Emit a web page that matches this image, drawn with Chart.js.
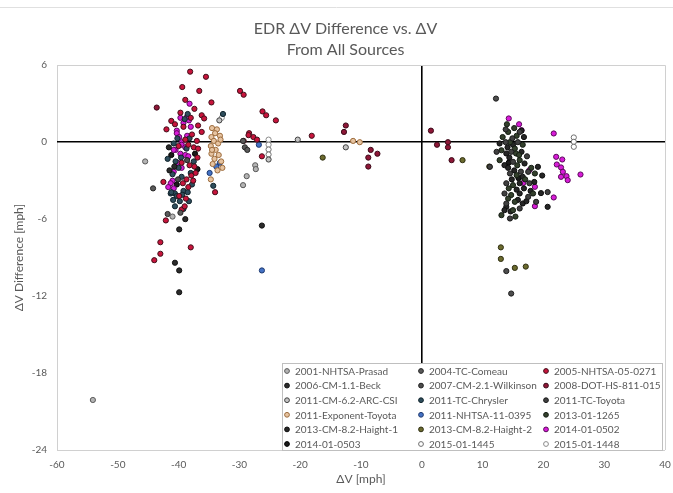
<!DOCTYPE html>
<html>
<head>
<meta charset="utf-8">
<title>EDR ΔV Difference vs. ΔV</title>
<script src="https://cdn.jsdelivr.net/npm/chart.js@4.4.1/dist/chart.umd.min.js"></script>
<style>
    html, body { margin: 0; padding: 0; background: #fff; }
    #chartBox { width: 673px; height: 493px; }
</style>
</head>
<body>
<div id="chartBox"><canvas id="edrChart" width="673" height="493"></canvas></div>
<script>
// edr-chart - EDR delta-V difference vs. delta-V, all sources

// Series names, in legend order
const seriesLabels = [
    '2001-NHTSA-Prasad', '2004-TC-Comeau', '2005-NHTSA-05-0271',
    '2006-CM-1.1-Beck', '2007-CM-2.1-Wilkinson', '2008-DOT-HS-811-015',
    '2011-CM-6.2-ARC-CSI', '2011-TC-Chrysler', '2011-TC-Toyota',
    '2011-Exponent-Toyota', '2011-NHTSA-11-0395', '2013-01-1265',
    '2013-CM-8.2-Haight-1', '2013-CM-8.2-Haight-2', '2014-01-0502',
    '2014-01-0503', '2015-01-1445', '2015-01-1448'
];

// Axis ticks
const xTicks = [-60, -50, -40, -30, -20, -10, 0, 10, 20, 30, 40];
const yTicks = [-24, -18, -12, -6, 0, 6];

// Points per source: [deltaV, deltaV difference] in mph
const prasad2001 = [[-54.1, -20.1], [-45.5, -1.5], [-41.0, -5.8], [-27.4, -1.8], [-27.3, -2.1], [-28.8, -2.65], [-29.4, -3.35]];
const comeau2004 = [[-44.2, -3.6], [-29.1, -0.4], [-28.7, -0.6], [-29.4, 0.1], [-39.7, -5.5], [-41.8, -5.6]];
const nhtsa2005 = [
    [-38.1, 5.5], [-35.5, 5.1], [-39.4, 4.3], [-36.6, 4.0], [-38.9, 3.3], [-34.6, 3.1], [-37.4, 2.6],
    [-36.2, 2.1], [-35.8, 1.85], [-41.2, 1.66], [-42.0, 1.0], [-36.2, 0.8], [-42.5, -3.1], [-42.1, -6.1],
    [-39.5, -5.25], [-43.0, -7.8], [-38.0, -8.2], [-43.0, -8.7], [-44.0, -9.2], [-34.0, -3.9],
    [-29.9, 4.0], [-29.3, 3.7], [-26.2, 2.4], [-25.6, 2.1], [-24.0, 1.7], [-28.4, 0.7], [-27.7, 0.4],
    [-27.1, 0.2], [-29.3, 0.1], [-28.5, 0.55], [-26.3, -1.1], [-18.1, 0.5],
    [-39.2, 1.2], [-37.8, 0.6], [-38.4, -0.2], [-37.5, -0.4], [-36.8, -0.5], [-39.5, -1.6], [-38.2, -1.8],
    [-37.4, -1.9], [-37.9, -2.6], [-38.7, -2.9], [-37.2, -2.4], [-39.3, -3.2], [-38.4, -3.5], [-39.9, -4.2],
    [-38.8, -4.4], [-40.6, 1.4], [-39.7, 2.3], [-38.0, 1.9], [-36.8, 1.3], [-40.0, -0.3], [-37.0, 0.1],
    [-38.9, 0.2], [-39.0, -5.0], [-36.9, -1.2], [-37.6, -3.0]
];
const beck2006 = [[-39.9, -11.7], [-40.6, -9.4], [-39.9, -10.0], [-39.9, -6.8], [-38.9, -6.0], [-26.3, -6.5], [-41.6, -0.4], [-41.5, -2.2], [-40.7, -1.9]];
const wilkinson2007 = [[13.9, -10.05], [14.7, -11.8], [12.2, 3.4], [-40.1, -2.9], [-38.6, -1.4]];
const dot2008 = [[-43.6, 2.7], [-12.5, 1.3], [-12.8, 0.8], [-8.4, -0.6], [-7.3, -0.9], [-8.8, -1.2], [-8.8, -1.9], [1.5, 0.9], [2.5, -0.2], [4.3, 0.0], [4.3, -0.4], [4.9, -1.4]];
const arcCsi2011 = [[-33.3, 1.7], [-20.4, 0.2], [-12.5, -0.4], [-25.2, -1.35]];
const chrysler2011 = [
    [-40.5, -1.5], [-40.0, -2.0], [-41.0, -2.5], [-39.5, -2.7], [-40.6, -4.0], [-39.2, -3.8], [-40.3, -4.2],
    [-41.3, -4.0], [-39.8, -4.6], [-38.5, -3.9], [-38.0, -2.4], [-37.8, -3.3], [-40.6, -5.0], [-39.6, -1.2],
    [-39.0, 1.8], [-38.5, 2.2], [-38.2, 0.3], [-38.7, -0.5], [-40.2, 0.3], [-40.8, -0.1], [-37.5, -1.5],
    [-38.3, -4.6], [-41.8, -1.3], [-41.2, -3.9], [-39.2, -5.2], [-32.7, 2.2], [-34.3, -3.4], [-40.9, -4.5], [-39.4, -4.1]
];
const tcToyota2011 = [
    [13.8, 1.0], [16.1, 0.8], [13.8, 0.0], [15.8, 0.0], [12.3, -0.75], [14.7, -0.75], [11.2, -1.92], [15.0, -1.53],
    [14.5, -2.44], [17.5, -2.31], [13.9, -3.2], [17.7, -3.2], [13.6, -4.0], [17.5, -4.26], [20.7, -3.89],
    [13.9, -4.78], [18.8, -4.65], [16.1, -5.17], [14.5, -5.95], [17.3, -1.1], [14.9, 0.3], [16.3, -2.3]
];
const exponentToyota2011 = [
    [-34.5, 1.1], [-33.7, 1.0], [-34.0, 0.7], [-34.6, 0.4], [-33.2, 0.5], [-34.2, 0.1], [-33.5, -0.1],
    [-34.7, -0.3], [-33.9, -0.6], [-34.6, -0.9], [-33.4, -1.0], [-34.1, -1.3], [-33.0, -1.5], [-34.4, -1.7],
    [-32.8, -2.0], [-33.6, -2.2], [-34.7, -2.9], [-34.5, -0.6], [-33.1, 0.2], [-11.3, 0.1], [-10.2, 0.0]
];
const nhtsa2011 = [[-34.9, -2.4], [-33.8, -1.9], [-26.8, -0.2], [-26.3, -10.0], [-33.2, -1.6]];
const sae2013_1265 = [
    [14.2, 0.8], [15.6, 0.5], [14.5, 0.0], [16.6, -0.2], [13.1, -0.63], [15.5, -0.88], [12.8, -1.4], [16.1, -1.4],
    [15.6, -2.57], [18.6, -2.44], [15.0, -3.35], [14.7, -4.12], [18.3, -4.0], [15.3, -4.65], [15.0, -5.3],
    [13.1, -5.69], [15.3, -0.5], [15.7, -1.8], [17.0, -2.9], [14.3, -3.6], [14.2, -4.4], [15.4, -5.8],
    [18.0, -2.0], [13.3, 0.4], [15.2, 1.1], [14.0, 1.4], [16.0, -1.0]
];
const haight1 = [
    [16.4, 0.9], [15.0, -0.2], [13.9, -0.88], [16.4, -0.75], [13.6, -1.79], [16.9, -1.66], [19.1, -1.92],
    [16.6, -2.7], [16.1, -3.2], [16.1, -4.0], [19.6, -3.97], [16.6, -4.78], [13.9, -5.04], [20.7, -5.04],
    [14.1, -0.4], [14.4, -1.2], [14.2, -2.0], [15.2, -2.2], [14.8, -2.9], [15.6, -3.7], [16.8, -3.6],
    [17.2, -4.6], [15.8, -4.5], [14.6, -5.4], [13.6, -5.3], [17.9, -3.8], [19.8, -2.6], [16.8, 0.4],
    [12.8, -0.1], [18.5, -3.1]
];
const haight2 = [[-16.3, -1.2], [6.7, -1.4], [11.1, -1.9], [13.0, -8.2], [13.0, -9.1], [15.3, -9.8], [17.1, -9.7]];
const sae2014_0502 = [
    [-38.2, 3.0], [-39.7, 1.9], [-39.2, 1.5], [-38.3, 1.7], [-38.6, 2.0], [-38.0, 1.2], [-40.3, 0.9],
    [-40.3, 0.7], [-39.9, 0.4], [-39.5, 0.0], [-39.5, -0.2], [-40.5, -0.6], [-40.8, -0.6], [-39.7, -0.9],
    [-38.9, -1.0], [-38.4, -1.1], [-40.2, -1.6], [-39.5, -2.0], [-40.8, -2.3], [-41.0, -3.0], [-41.3, -3.2],
    [-41.7, -3.5], [-40.8, -3.6], [-38.6, 0.5], [-38.9, -0.4],
    [14.3, 1.85], [16.0, 1.4], [16.4, 0.94], [21.7, 0.68], [22.1, -1.14], [23.1, -1.35], [22.2, -1.74],
    [22.9, -1.97], [23.2, -2.31], [23.8, -2.65], [22.9, -2.7], [24.0, -2.96], [26.1, -2.52], [21.7, -4.31],
    [18.6, -4.99], [18.6, -3.48], [16.7, -3.17], [17.7, -2.18]
];
const sae2014_0503 = [[14.3, -1.6], [15.9, -2.8], [-41.2, -1.0], [-40.3, -3.3], [-37.3, -0.9], [-36.9, -2.1]];
const sae2015_1445 = [[25.0, 0.37], [25.0, 0.03], [25.0, -0.36], [-25.2, -0.57], [-25.2, -0.96]];
const sae2015_1448 = [[-25.2, 0.2], [-25.2, -0.2], [-32.9, 1.9]];

const seriesPoints = [
    prasad2001, comeau2004, nhtsa2005, beck2006, wilkinson2007, dot2008,
    arcCsi2011, chrysler2011, tcToyota2011, exponentToyota2011, nhtsa2011, sae2013_1265,
    haight1, haight2, sae2014_0502, sae2014_0503, sae2015_1445, sae2015_1448
];

// Marker colours (fill / outline), same order as the labels
const fillColors = [
    '#b4b4b4', '#5a5a5a', '#c8143c', '#2b2b2b', '#4d4d4d', '#8e1737',
    '#c4c4c4', '#2e4d5c', '#404040', '#e6c3a0', '#4472c4', '#33402c',
    '#262626', '#6b6a2e', '#d81bd8', '#1a1a1a', '#ffffff', '#ffffff'
];
const edgeColors = [
    '#595959', '#262626', '#40101a', '#111111', '#1f1f1f', '#3a0a18',
    '#404040', '#10232b', '#1a1a1a', '#9c6b3c', '#1f3a70', '#141c13',
    '#0d0d0d', '#2f2f12', '#5a0a5a', '#000000', '#6f6f6f', '#8a8a8a'
];

const textGray = '#595959';
const fontFamily = 'Lato, "Open Sans", sans-serif';

document.addEventListener('DOMContentLoaded', function() {
    createChart();
});

// Legend drawn inside the plot, bottom right, three columns
const insideLegend = {
    id: 'insideLegend',
    afterDatasetsDraw(chart) {
        const ctx = chart.ctx;
        const area = chart.chartArea;
        const boxW = 380;
        const boxH = 87;
        const left = area.right - boxW - 3;
        const top = area.bottom - boxH;
        const colOffsets = [5, 139, 264];
        const rowH = 14.6;

        ctx.save();
        ctx.fillStyle = '#ffffff';
        ctx.fillRect(left, top, boxW, boxH);
        ctx.strokeStyle = '#bfbfbf';
        ctx.lineWidth = 1;
        ctx.strokeRect(left + 0.5, top + 0.5, boxW, boxH);

        ctx.font = '10px ' + fontFamily;
        ctx.textBaseline = 'middle';
        ctx.textAlign = 'left';

        chart.data.datasets.forEach(function(ds, i) {
            const row = Math.floor(i / 3);
            const col = i % 3;
            const mx = left + colOffsets[col];
            const my = top + 8 + row * rowH;
            ctx.beginPath();
            ctx.arc(mx, my, 2.4, 0, Math.PI * 2);
            ctx.fillStyle = ds.backgroundColor;
            ctx.fill();
            ctx.strokeStyle = ds.borderColor;
            ctx.stroke();
            ctx.fillStyle = textGray;
            ctx.fillText(ds.label, mx + 8, my + 0.5);
        });
        ctx.restore();
    }
};

// Thin frame line at the top of the picture
const topRule = {
    id: 'topRule',
    beforeDraw(chart) {
        const ctx = chart.ctx;
        ctx.save();
        ctx.strokeStyle = '#e0e0e0';
        ctx.lineWidth = 1;
        ctx.beginPath();
        ctx.moveTo(0, 7.5);
        ctx.lineTo(chart.width, 7.5);
        ctx.stroke();
        ctx.restore();
    }
};

// Grid: black line at zero, light frame at the ends, nothing else
function gridColor(ctx, min, max) {
    const v = ctx.tick ? ctx.tick.value : null;
    if (v === 0) return '#000000';
    if (v === min || v === max) return '#d0d0d0';
    return 'rgba(0,0,0,0)';
}

function createChart() {
    const canvas = document.getElementById('edrChart');

    const datasets = seriesLabels.map(function(label, i) {
        return {
            label: label,
            data: seriesPoints[i].map(p => ({ x: p[0], y: p[1] })),
            backgroundColor: fillColors[i],
            borderColor: edgeColors[i],
            pointRadius: 2.6,
            pointBorderWidth: 1,
            pointHoverRadius: 2.6,
            showLine: false
        };
    });

    new Chart(canvas.getContext('2d'), {
        type: 'scatter',
        data: { datasets: datasets },
        options: {
            responsive: false,
            animation: false,
            devicePixelRatio: 1,
            layout: { padding: { left: 18, right: 0, top: 0, bottom: 0 } },
            plugins: {
                legend: { display: false },
                tooltip: { enabled: false },
                title: {
                    display: true,
                    text: ['EDR ΔV Difference vs. ΔV', 'From All Sources'],
                    color: textGray,
                    font: { family: fontFamily, size: 16, weight: 'normal', lineHeight: 1.32 },
                    padding: { top: 18, bottom: 5 }
                }
            },
            scales: {
                x: {
                    type: 'linear',
                    min: xTicks[0],
                    max: xTicks[xTicks.length - 1],
                    afterBuildTicks: function(scale) {
                        scale.ticks = xTicks.map(v => ({ value: v }));
                    },
                    afterFit: function(scale) {
                        scale.height = 43;
                        scale.paddingRight = 8;
                    },
                    ticks: {
                        color: textGray,
                        font: { family: fontFamily, size: 10 },
                        padding: 9,
                        maxRotation: 0
                    },
                    grid: {
                        drawTicks: false,
                        color: ctx => gridColor(ctx, xTicks[0], xTicks[xTicks.length - 1]),
                        lineWidth: ctx => (ctx.tick && ctx.tick.value === 0 ? 1.6 : 1)
                    },
                    border: { display: false },
                    title: {
                        display: true,
                        text: 'ΔV [mph]',
                        color: textGray,
                        font: { family: fontFamily, size: 12 },
                        padding: { top: 2, bottom: 7 }
                    }
                },
                y: {
                    type: 'linear',
                    min: yTicks[0],
                    max: yTicks[yTicks.length - 1],
                    afterBuildTicks: function(scale) {
                        scale.ticks = yTicks.map(v => ({ value: v }));
                    },
                    afterFit: function(scale) { scale.width = 39; },
                    ticks: {
                        color: textGray,
                        font: { family: fontFamily, size: 10 },
                        padding: 10
                    },
                    grid: {
                        drawTicks: false,
                        color: ctx => gridColor(ctx, yTicks[0], yTicks[yTicks.length - 1]),
                        lineWidth: ctx => (ctx.tick && ctx.tick.value === 0 ? 1.6 : 1)
                    },
                    border: { display: false },
                    title: {
                        display: true,
                        text: 'ΔV Difference [mph]',
                        color: textGray,
                        font: { family: fontFamily, size: 12 },
                        padding: { top: -6, bottom: 0 }
                    }
                }
            }
        },
        plugins: [topRule, insideLegend]
    });
}
</script>
</body>
</html>
